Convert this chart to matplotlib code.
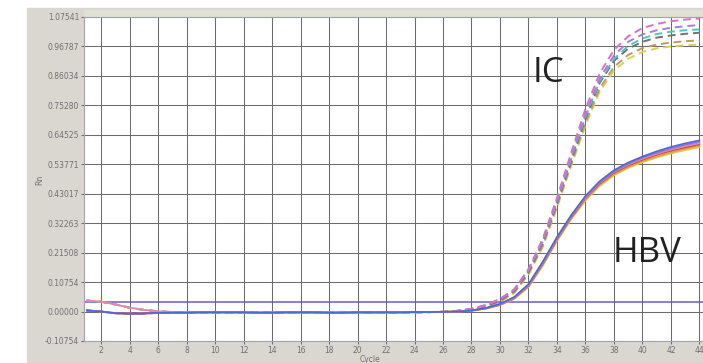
import matplotlib.pyplot as plt
from matplotlib.patches import Rectangle

# amplification curves, Rn per cycle
cycles = list(range(1, 45))

# cycles 1-26 (flat baseline before amplification)
early_a = [0.040, 0.036, 0.026, 0.014, 0.006, 0.001, -0.002, -0.003, -0.003, -0.003,
           -0.003, -0.004, -0.004, -0.003, -0.003, -0.004, -0.004, -0.003, -0.003, -0.004,
           -0.004, -0.003, -0.003, -0.003, -0.002, -0.001]
early_b = [0.004, 0.000, -0.006, -0.008, -0.007, -0.005, -0.004, -0.004, -0.003, -0.003,
           -0.003, -0.003, -0.004, -0.004, -0.003, -0.003, -0.003, -0.004, -0.004, -0.003,
           -0.003, -0.003, -0.003, -0.002, -0.002, -0.001]

# cycles 27-44, internal control (dashed)
ic_pink = [0.003, 0.010, 0.024, 0.046, 0.080, 0.155, 0.265, 0.415, 0.580, 0.740,
           0.870, 0.955, 1.005, 1.035, 1.050, 1.060, 1.066, 1.070]
ic_purple = [0.002, 0.009, 0.022, 0.044, 0.078, 0.150, 0.258, 0.405, 0.565, 0.722,
             0.852, 0.935, 0.985, 1.012, 1.027, 1.036, 1.042, 1.046]
ic_cyan = [0.003, 0.010, 0.023, 0.045, 0.082, 0.152, 0.255, 0.400, 0.558, 0.712,
           0.842, 0.922, 0.970, 0.997, 1.013, 1.022, 1.027, 1.030]
ic_gray = [0.002, 0.008, 0.020, 0.040, 0.075, 0.145, 0.250, 0.395, 0.550, 0.705,
           0.835, 0.915, 0.960, 0.985, 1.000, 1.008, 1.014, 1.018]
ic_tan = [0.002, 0.007, 0.018, 0.037, 0.070, 0.138, 0.240, 0.385, 0.540, 0.690,
          0.815, 0.893, 0.937, 0.962, 0.975, 0.982, 0.987, 0.990]
ic_yellow = [0.001, 0.006, 0.017, 0.035, 0.068, 0.135, 0.236, 0.380, 0.532, 0.680,
             0.803, 0.880, 0.923, 0.948, 0.961, 0.968, 0.972, 0.975]

# cycles 27-44, HBV target (solid)
hbv_blue = [0.000, 0.004, 0.013, 0.028, 0.053, 0.100, 0.182, 0.272, 0.352, 0.422,
            0.476, 0.516, 0.544, 0.566, 0.585, 0.601, 0.614, 0.625]
hbv_purple = [0.000, 0.004, 0.012, 0.027, 0.052, 0.098, 0.179, 0.269, 0.349, 0.419,
              0.472, 0.512, 0.540, 0.562, 0.580, 0.596, 0.609, 0.620]
hbv_pink = [0.000, 0.004, 0.012, 0.026, 0.050, 0.096, 0.177, 0.267, 0.347, 0.417,
            0.470, 0.510, 0.537, 0.558, 0.576, 0.592, 0.604, 0.615]
hbv_red = [0.000, 0.003, 0.011, 0.025, 0.049, 0.094, 0.174, 0.264, 0.344, 0.414,
           0.467, 0.506, 0.533, 0.554, 0.572, 0.587, 0.599, 0.610]
hbv_orange = [0.000, 0.003, 0.011, 0.024, 0.047, 0.091, 0.170, 0.260, 0.340, 0.409,
              0.462, 0.501, 0.528, 0.549, 0.566, 0.581, 0.594, 0.605]
hbv_yellow = [0.000, 0.003, 0.010, 0.023, 0.046, 0.089, 0.167, 0.257, 0.337, 0.405,
              0.458, 0.497, 0.524, 0.545, 0.562, 0.577, 0.589, 0.600]

threshold = 0.035

ytick_vals = [-0.10754, 0.0, 0.10754, 0.21508, 0.32263, 0.43017, 0.53771,
              0.64525, 0.75280, 0.86034, 0.96787, 1.07541]
ytick_labels = ["-0.10754", "0.00000", "0.10754", "0.21508", "0.32263", "0.43017",
                "0.53771", "0.64525", "0.75280", "0.86034", "0.96787", "1.07541"]
xtick_vals = list(range(2, 45, 2))

W, H = 703, 363
fig = plt.figure(figsize=(W / 100, H / 100), dpi=100)
fig.patch.set_facecolor("white")
# grey window panel and the strip above the plot
fig.patches.append(Rectangle((27 / W, 0), (W - 27) / W, 355 / H,
                             transform=fig.transFigure, color="#dad7d1", zorder=-2))
fig.patches.append(Rectangle((84 / W, 1 - 17 / H), (W - 84) / W, 7 / H,
                             transform=fig.transFigure, color="#dfe2d2", zorder=-1))

ax = fig.add_axes([84 / W, 22 / H, (W - 84) / W, 324 / H])
ax.set_zorder(5)
ax.set_facecolor("white")
ax.set_xlim(0.8, 44.25)
ax.set_ylim(ytick_vals[0], ytick_vals[-1])
ax.set_xticks(xtick_vals)
ax.set_xticklabels([str(v) for v in xtick_vals])
ax.set_yticks(ytick_vals)
ax.set_yticklabels(ytick_labels)
ax.tick_params(labelsize=5.5, colors="#707070", length=2, pad=1.5)
ax.grid(True, color="#6c6c6c", lw=0.75)
for s in ax.spines.values():
    s.set_color("#a0a4aa")
    s.set_linewidth(0.8)

ax.axhline(threshold, color="#6a5ad6", lw=1.1, zorder=2)

ic_series = [(ic_yellow, "#cfd45a", early_a), (ic_tan, "#c49a5a", early_b),
             (ic_gray, "#6f7472", early_a), (ic_cyan, "#4fc4c4", early_b),
             (ic_purple, "#a47fdc", early_a), (ic_pink, "#e06cc8", early_b)]
for late, color, early in ic_series:
    ax.plot(cycles, early + late, color=color, lw=1.4, ls=(0, (4, 2.5)), zorder=3)

hbv_series = [(hbv_yellow, "#d8d24a", early_a), (hbv_orange, "#e0a040", early_b),
              (hbv_red, "#d05048", early_b), (hbv_pink, "#e284b8", early_a),
              (hbv_purple, "#9276cc", early_b), (hbv_blue, "#5068d6", early_b)]
for late, color, early in hbv_series:
    ax.plot(cycles, early + late, color=color, lw=1.2, zorder=3)

ax.text(32.3, 0.87, "IC", fontsize=25, family="Open Sans", color="#222222",
        va="center", ha="left")
ax.text(37.9, 0.215, "HBV", fontsize=25, family="Open Sans", color="#222222",
        va="center", ha="left")

fig.text(40 / W, 1 - 180 / H, "Rn", fontsize=5.5, color="#707070",
         rotation=90, ha="center", va="center")
fig.text(370 / W, 1 - 360 / H, "Cycle", fontsize=5.5, color="#707070",
         ha="center", va="center")

fig.savefig("out.png", dpi=100)
